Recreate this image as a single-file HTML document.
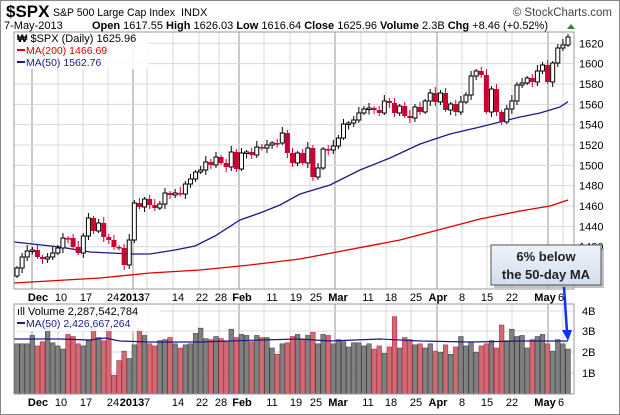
<!DOCTYPE html>
<html><head><meta charset="utf-8"><style>
body{margin:0;background:#fff;}
svg{display:block;font-family:"Liberation Sans",sans-serif;}
</style></head><body>
<svg id="s" width="620" height="415" xmlns="http://www.w3.org/2000/svg"></svg>
<script>
const s=document.getElementById('s');let h='';
h+='<rect x="0.5" y="0.5" width="619" height="414" fill="#fff" stroke="#888"/>';
h+='<text x="6" y="17" font-size="17" font-weight="bold">$SPX</text>';
h+='<text x="53" y="16" font-size="11" textLength="122" lengthAdjust="spacingAndGlyphs">S&amp;P 500 Large Cap Index</text><text x="181" y="16" font-size="11">INDX</text>';
h+='<text x="612" y="16" font-size="11.5" text-anchor="end" fill="#444">© StockCharts.com</text>';
h+='<text x="4" y="29" font-size="11">7-May-2013</text>';
h+='<text x="92" y="29" font-size="11"><tspan font-weight="bold">Open</tspan> 1617.55 <tspan font-weight="bold">High</tspan> 1626.03 <tspan font-weight="bold">Low</tspan> 1616.64 <tspan font-weight="bold">Close</tspan> 1625.96 <tspan font-weight="bold">Volume</tspan> 2.3B <tspan font-weight="bold">Chg</tspan> +8.46 (+0.52%)</text>';
h+='<polygon points="567,29 571,24 575,29" fill="#2a8a2a"/>';
const L=14,R=574,T=32,B=289,VT=304,VB=394;
const yP=p=>43.3+(1620-p)*1.017;
const tk=[[38,'Dec',1],[61,'10'],[86,'17'],[113,'24'],[132,'2013',1],[147,'7'],[178,'14'],[202,'22'],[221,'28'],[242,'Feb',1],[272,'11'],[296,'19'],[316,'25'],[338,'Mar',1],[368,'11'],[391,'18'],[416,'25'],[438,'Apr',1],[462,'8'],[487,'15'],[512,'22'],[545,'May',1],[561,'6']];
const gx=[32,58,83,108,133,147,173,199,219,239,264,290,310,335,361,386,411,437,462,487,512,548,563];
function grid(t,b){gx.forEach((x,i)=>{const m=[0,4,9,13,17,21].includes(i);h+=`<line x1="${x}" y1="${t}" x2="${x}" y2="${b}" stroke="${m?'#b8b8b8':'#d8d8d8'}" stroke-width="${m?1.5:1}"/>`;});}
h+=`<rect x="${L}" y="${T}" width="${R-L}" height="${B-T}" fill="#fff"/>`;
grid(T,B);
for(let p=1420;p<=1620;p+=20){const y=yP(p);h+=`<line x1="${L}" y1="${y}" x2="${R}" y2="${y}" stroke="#d8d8d8"/><text x="579" y="${y+4}" font-size="11">${p}</text>`;}
h+=`<rect x="${L}" y="${VT}" width="${R-L}" height="${VB-VT}" fill="#fff"/>`;
grid(VT,VB);
[[4,311],[3,331],[2,352],[1,373]].forEach(([v,y])=>{h+=`<line x1="${L}" y1="${y}" x2="${R}" y2="${y}" stroke="#d8d8d8"/><text x="582" y="${y+4}" font-size="11">${v}B</text>`;});
const cy=[268,257,251,250,257,259,257,253,248,238,238,247,253,236,218,231,223,237,240,247,248,265,240,203,207,199,205,208,204,193,195,193,194,184,179,172,170,162,165,157,163,167,152,169,153,152,155,147,148,145,143,143,133,153,163,153,163,148,177,168,149,150,146,138,124,123,120,113,109,108,110,113,101,103,113,106,116,118,107,112,101,93,102,93,110,104,112,102,95,76,71,75,112,89,112,122,109,101,85,83,78,82,71,65,82,63,48,45,37];
const n=cy.length,dx=(568-17)/(n-1);
const vol=[2.4,2.4,2.4,2.8,2.3,2.5,3.2,2.45,2.3,2.15,2.85,2.75,2.4,2.3,2.55,3.2,2.7,2.55,3.2,0.9,1.6,2.05,1.7,2.35,3.1,2.8,2.4,2.3,2.55,2.6,2.7,2.4,2.2,2.35,2.4,2.9,3.15,2.65,2.6,2.75,2.65,2.55,3.1,2.7,2.85,2.8,2.5,2.8,2.7,2.7,2.2,1.9,2.4,2.45,2.75,2.85,2.6,2.8,2.95,2.4,2.85,2.8,2.4,2.6,2.5,2.25,2.45,2.45,2.3,2.4,2.15,2.3,1.95,2.25,3.7,2.2,2.7,2.6,2.35,2.4,2.2,2.4,2.05,2.0,2.35,1.9,2.25,2.75,2.3,2.5,2.0,2.3,2.4,2.55,2.2,3.3,2.55,3.1,2.75,2.8,2.2,2.6,2.75,2.85,2.4,2.05,2.6,2.4,2.15,2.3];
let c='',v='';
for(let i=0;i<n;i++){const x=17+i*dx;const pc=i?cy[i-1]:cy[0]+8;const up=cy[i]<pc;
 let t=Math.min(pc,cy[i]),b=Math.max(pc,cy[i]);if(b-t<1.5)b=t+1.5;
 const w1=2+(i*7%5),w2=2+(i*3%4);
 c+=`<line x1="${x}" y1="${t-w1}" x2="${x}" y2="${b+w2}" stroke="${up?'#000':'#cc0033'}" stroke-width="1"/>`;
 c+=up?`<rect x="${x-2}" y="${t}" width="4" height="${b-t}" fill="#fff" stroke="#000" stroke-width="1"/>`:`<rect x="${x-2.5}" y="${t}" width="5" height="${b-t}" fill="#cc0033"/>`;
 const vv=vol[i]||2.3,vy=394-vv*20.9;
 v+=`<rect x="${x-2.3}" y="${vy}" width="4.6" height="${394-vy}" fill="${up?'#808080':'#d06a74'}" stroke="${up?'#444':'#b03040'}" stroke-width="0.6"/>`;}
h+='<polyline fill="none" stroke="#e00000" stroke-width="1.3" points="14,283 100,278 150,273 200,270 250,265 300,259 400,240 480,219 520,211 550,206 568,200"/>';
h+='<polyline fill="none" stroke="#1a1a8c" stroke-width="1.3" points="14,242 60,247 90,252 130,254 150,254 175,250 195,246 215,236 240,220 260,213 280,205 300,194 330,185 360,170 390,158 420,144 450,134 480,127 520,117 540,113 560,107 568,101.7"/>';
h+=c+v;
h+='<polyline fill="none" stroke="#1a1a8c" stroke-width="1.2" points="14,339 60,339 90,340 105,338 120,341 150,342 200,342 260,340 300,339 330,341 380,339 420,341 470,342 520,341 568,341"/>';
h+=`<rect x="${L}" y="${T}" width="${R-L}" height="${B-T}" fill="none" stroke="#999"/>`;
h+=`<rect x="${L}" y="${VT}" width="${R-L}" height="${VB-VT}" fill="none" stroke="#999"/>`;
tk.forEach(([x,t,b])=>{[297,402].forEach(y=>{h+=`<text x="${x}" y="${y+4}" font-size="11" text-anchor="middle" ${b?'font-weight="bold"':''}>${t}</text>`;});});
h+='<rect x="15" y="33" width="134" height="36" fill="#fff" opacity="0.85"/>';
h+='<text x="17" y="42" font-size="11"><tspan font-weight="bold">₩</tspan> $SPX (Daily) 1625.96</text>';
h+='<line x1="17" y1="50" x2="25" y2="50" stroke="#e00000" stroke-width="2"/><text x="26" y="54" font-size="10.5" fill="#e00000">MA(200) 1466.69</text>';
h+='<line x1="17" y1="62" x2="25" y2="62" stroke="#1a1a8c" stroke-width="2"/><text x="26" y="66" font-size="10.5" fill="#1a1a8c">MA(50) 1562.76</text>';
h+='<rect x="15" y="305" width="145" height="26" fill="#fff" opacity="0.85"/>';
h+='<text x="17" y="315" font-size="11">ıll Volume 2,287,542,784</text>';
h+='<line x1="17" y1="323" x2="25" y2="323" stroke="#1a1a8c" stroke-width="2"/><text x="26" y="327" font-size="10.5" fill="#1a1a8c">MA(50) 2,426,667,264</text>';
h+='<defs><linearGradient id="g" x1="0" y1="0" x2="0" y2="1"><stop offset="0" stop-color="#eef3fa"/><stop offset="1" stop-color="#d3deee"/></linearGradient></defs>';
h+='<rect x="494" y="248" width="110" height="40" fill="#999" opacity="0.6"/>';
h+='<rect x="491" y="245" width="110" height="40" fill="url(#g)" stroke="#555"/>';
h+='<text x="546" y="261" font-size="13" font-weight="bold" text-anchor="middle" fill="#222">6% below</text>';
h+='<text x="546" y="279" font-size="13" font-weight="bold" text-anchor="middle" fill="#222">the 50-day MA</text>';
h+='<line x1="564" y1="287" x2="567" y2="332" stroke="#1030ff" stroke-width="2.5"/><polygon points="562,330 572,330 568,341" fill="#1030ff"/>';
s.innerHTML=h;
</script>
</body></html>
